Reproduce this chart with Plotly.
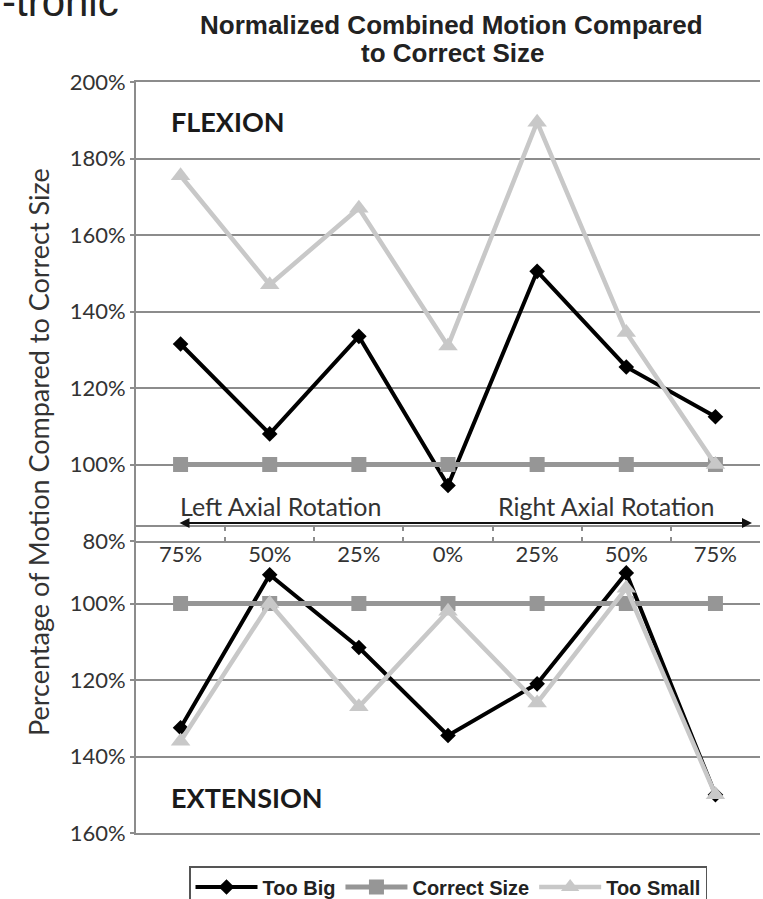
import plotly.graph_objects as go

categories = ["75%", "50%", "25%", "0%", "25%", "50%", "75%"]
flex_too_big = [131.5, 108, 133.5, 94.5, 150.5, 125.5, 112.5]
flex_correct = [100, 100, 100, 100, 100, 100, 100]
flex_too_small = [175.5, 147, 167, 131, 189.5, 134.5, 100]
ext_too_big = [132.5, 92.5, 111.5, 134.5, 121, 92, 150]
ext_correct = [100, 100, 100, 100, 100, 100, 100]
ext_too_small = [136, 100, 127, 102, 126, 96, 150]

flex_ticks = [80, 100, 120, 140, 160, 180, 200]
ext_ticks = [100, 120, 140, 160]

W, H = 763, 899
L, R, T, B = 136, 3, 82, 66
PW, PH = W - L - R, H - T - B


def px(x):
    return (x - L) / PW


def py(y):
    return (H - B - y) / PH


xs = list(range(len(categories)))
GRID = "#8c8c8c"
TXT = "#333333"
LATO = "Lato"
ARIAL = "Liberation Sans"

styles = {
    "Too Big": dict(color="#000000", width=4, symbol="diamond", size=12),
    "Correct Size": dict(color="#969696", width=5, symbol="square", size=15),
    "Too Small": dict(color="#c8c8c8", width=4.5, symbol="triangle-up", size=17),
}

fig = go.Figure()
for name, yv in [("Too Big", flex_too_big), ("Correct Size", flex_correct), ("Too Small", flex_too_small)]:
    s = styles[name]
    fig.add_trace(go.Scatter(x=xs, y=yv, name=name, mode="lines+markers",
                             line=dict(color=s["color"], width=s["width"]),
                             marker=dict(symbol=s["symbol"], size=s["size"], color=s["color"]),
                             xaxis="x", yaxis="y"))
for name, yv in [("Too Big", ext_too_big), ("Correct Size", ext_correct), ("Too Small", ext_too_small)]:
    s = styles[name]
    fig.add_trace(go.Scatter(x=xs, y=yv, name=name, mode="lines+markers", showlegend=False,
                             line=dict(color=s["color"], width=s["width"]),
                             marker=dict(symbol=s["symbol"], size=s["size"], color=s["color"]),
                             xaxis="x2", yaxis="y2"))

top_bottom = py(541)
bot_top = py(527)

axis_common = dict(showline=True, linecolor=GRID, linewidth=2)
minor_ticks = dict(tickvals=[0.5, 1.5, 2.5, 3.5, 4.5, 5.5], ticks="inside",
                   ticklen=4, tickcolor=GRID, tickwidth=1.5, showgrid=False)

fig.update_layout(
    width=W, height=H,
    margin=dict(l=L, r=R, t=T, b=B),
    paper_bgcolor="white", plot_bgcolor="rgba(0,0,0,0)",
    xaxis=dict(domain=[0, 1], anchor="y", range=[-0.5, 6.5],
               tickvals=xs, ticktext=categories, ticks="", showticklabels=True,
               tickfont=dict(family=LATO, size=22, color=TXT),
               ticklabelstandoff=-7,
               showgrid=False, zeroline=False, mirror=True,
               minor=minor_ticks, **axis_common),
    yaxis=dict(domain=[top_bottom, 1], anchor="x", range=[80, 200],
               tickvals=flex_ticks, ticktext=[f"{v}%" for v in flex_ticks],
               tickfont=dict(family=LATO, size=22, color=TXT),
               ticks="outside", ticklen=4, tickcolor=GRID, tickwidth=1.5,
               ticklabelstandoff=0,
               showgrid=True, gridcolor=GRID, gridwidth=1.5, zeroline=False,
               **axis_common),
    xaxis2=dict(domain=[0, 1], anchor="y2", range=[-0.5, 6.5], side="top",
                tickvals=xs, ticks="", showticklabels=False,
                showgrid=False, zeroline=False, mirror=True,
                minor=minor_ticks, **axis_common),
    yaxis2=dict(domain=[0, bot_top], anchor="x2", range=[160, 80],
                tickvals=ext_ticks, ticktext=[f"{v}%" for v in ext_ticks],
                tickfont=dict(family=LATO, size=22, color=TXT),
                ticks="outside", ticklen=4, tickcolor=GRID, tickwidth=1.5,
                ticklabelstandoff=0,
                showgrid=True, gridcolor=GRID, gridwidth=1.5, zeroline=False,
                **axis_common),
    legend=dict(orientation="h", xref="paper", x=px(448), xanchor="center",
                yref="container", y=1 - 866 / H, yanchor="top",
                bordercolor="#555555", borderwidth=1.5, bgcolor="white",
                font=dict(family=ARIAL, size=20, color="#222222", weight="bold"),
                itemwidth=62, traceorder="normal"),
    showlegend=True,
)

annotations = [
    dict(text="-tronic", x=px(0), xanchor="left", y=py(2), yanchor="middle",
         font=dict(family=ARIAL, size=42, color="#222222")),
    dict(text="<b>Normalized Combined Motion Compared</b>", x=px(451), xanchor="center",
         y=py(25), yanchor="middle", font=dict(family=ARIAL, size=26, color="#222222")),
    dict(text="<b>to Correct Size</b>", x=px(453), xanchor="center",
         y=py(53), yanchor="middle", font=dict(family=ARIAL, size=26, color="#222222")),
    dict(text="Percentage of Motion Compared to Correct Size", x=px(38), xanchor="center",
         y=py(452), yanchor="middle", textangle=-90,
         font=dict(family=LATO, size=27, color=TXT)),
    dict(text="<b>FLEXION</b>", x=px(169), xanchor="left", y=py(121), yanchor="middle",
         font=dict(family=LATO, size=27, color="#1a1a1a")),
    dict(text="<b>EXTENSION</b>", x=px(169), xanchor="left", y=py(797), yanchor="middle",
         font=dict(family=LATO, size=27, color="#1a1a1a")),
    dict(text="Left Axial Rotation", x=px(178), xanchor="left", y=py(506), yanchor="middle",
         font=dict(family=LATO, size=25, color=TXT)),
    dict(text="Right Axial Rotation", x=px(716), xanchor="right", y=py(506), yanchor="middle",
         font=dict(family=LATO, size=25, color=TXT)),
    dict(text="", x=px(752), y=py(523), ax=-(752 - 178), ay=0, showarrow=True,
         arrowhead=2, startarrowhead=2, arrowside="end+start", arrowsize=1,
         arrowwidth=2, arrowcolor="#111111"),
]
for a in annotations:
    a.setdefault("showarrow", False)
    a["xref"] = "paper"
    a["yref"] = "paper"
    fig.add_annotation(**a)

fig.write_html("out.html", config={"displayModeBar": False},
               post_script="document.body.style.margin='0px';")
